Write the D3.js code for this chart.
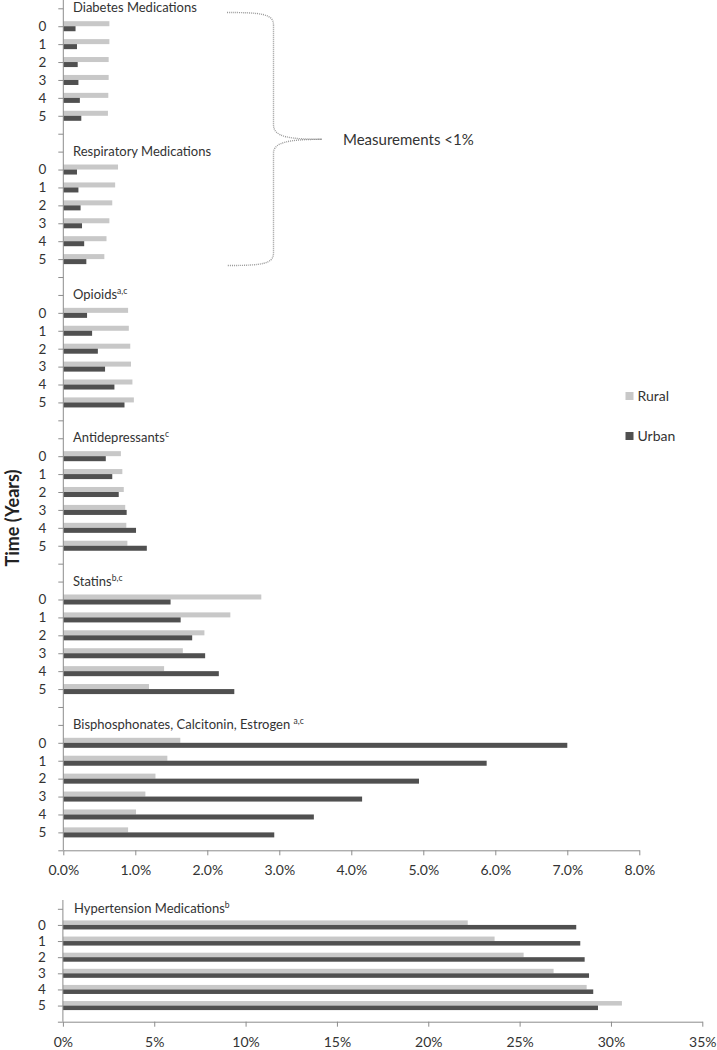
<!DOCTYPE html>
<html><head><meta charset="utf-8">
<script src="https://cdn.jsdelivr.net/npm/d3@7"></script>
<style>
body{margin:0;background:#fff;}
svg{display:block;font-family:Lato,"Open Sans",sans-serif;}
</style></head><body>
<svg id="chart" width="717" height="1050"></svg>
<script>
// ---------- data ----------
const years = ["0", "1", "2", "3", "4", "5"];
const groupNames = ["Diabetes Medications", "Respiratory Medications", "Opioids", "Antidepressants", "Statins", "Bisphosphonates, Calcitonin, Estrogen "];
const groupSups = ["", "", "a,c", "c", "b,c", "a,c"];
const seriesNames = ["Rural", "Urban"];

const diabetesRural = [0.64, 0.64, 0.63, 0.63, 0.625, 0.62];
const diabetesUrban = [0.17, 0.19, 0.20, 0.21, 0.23, 0.25];
const respiratoryRural = [0.76, 0.72, 0.68, 0.64, 0.60, 0.57];
const respiratoryUrban = [0.19, 0.21, 0.24, 0.26, 0.29, 0.32];
const opioidsRural = [0.90, 0.91, 0.93, 0.94, 0.96, 0.98];
const opioidsUrban = [0.33, 0.40, 0.48, 0.58, 0.71, 0.85];
const antidepressantsRural = [0.80, 0.82, 0.84, 0.86, 0.875, 0.89];
const antidepressantsUrban = [0.59, 0.68, 0.77, 0.88, 1.01, 1.16];
const statinsRural = [2.75, 2.32, 1.96, 1.66, 1.40, 1.19];
const statinsUrban = [1.49, 1.63, 1.79, 1.97, 2.16, 2.375];
const bisphosphonatesRural = [1.625, 1.445, 1.28, 1.14, 1.01, 0.90];
const bisphosphonatesUrban = [7.00, 5.88, 4.94, 4.15, 3.48, 2.93];

const hypertensionTitle = "Hypertension Medications";
const hypertensionSup = "b";
const hypertensionRural = [22.16, 23.63, 25.22, 26.86, 28.67, 30.60];
const hypertensionUrban = [28.10, 28.32, 28.56, 28.80, 29.03, 29.29];

const topTicks = [0, 1, 2, 3, 4, 5, 6, 7, 8];
const bottomTicks = [0, 5, 10, 15, 20, 25, 30, 35];
const annotationText = "Measurements <1%";
const yAxisTitle = "Time (Years)";

const ruralByGroup = [diabetesRural, respiratoryRural, opioidsRural, antidepressantsRural, statinsRural, bisphosphonatesRural];
const urbanByGroup = [diabetesUrban, respiratoryUrban, opioidsUrban, antidepressantsUrban, statinsUrban, bisphosphonatesUrban];

// ---------- style ----------
const C_RURAL = "#c8c8c8", C_URBAN = "#505050", C_AXIS = "#8c8c8c", C_TEXT = "#333";

const svg = d3.select("#chart");

// ---------- top chart ----------
const xTop = d3.scaleLinear().domain([0, 8]).range([63.3, 639.3]);
const rowKeys = [];
groupNames.forEach((g, i) => {
  rowKeys.push(i + "-t");
  years.forEach(y => rowKeys.push(i + "-" + y));
  rowKeys.push(i + "-b");
});
const yTop = d3.scalePoint().domain(rowKeys).range([8.3, 850.3]);
const bhTop = yTop.step() * 0.28;

const topBars = [];
groupNames.forEach((g, i) => {
  years.forEach((y, j) => {
    topBars.push({key: i + "-" + y, s: 0, v: ruralByGroup[i][j]});
    topBars.push({key: i + "-" + y, s: 1, v: urbanByGroup[i][j]});
  });
});
const gTop = svg.append("g");
gTop.selectAll("rect.bar").data(topBars).join("rect")
  .attr("class", "bar")
  .attr("x", xTop(0))
  .attr("y", d => d.s === 0 ? yTop(d.key) - bhTop : yTop(d.key))
  .attr("width", d => xTop(d.v) - xTop(0))
  .attr("height", bhTop)
  .attr("fill", d => d.s === 0 ? C_RURAL : C_URBAN);

function styleAxis(g) {
  g.selectAll("path.domain").attr("stroke", C_AXIS);
  g.selectAll(".tick line").attr("stroke", C_AXIS);
  g.selectAll(".tick text").attr("fill", C_TEXT).attr("font-family", "Lato, sans-serif");
}

const yAxisTop = svg.append("g").attr("transform", `translate(${xTop(0)},0)`)
  .call(d3.axisLeft(yTop).tickSize(5).tickSizeOuter(0).tickPadding(12)
    .tickFormat(k => { const p = k.split("-")[1]; return years.includes(p) ? p : ""; }))
  .call(styleAxis);
yAxisTop.select("path.domain").remove();
yAxisTop.selectAll(".tick text").attr("font-size", 13.5);
svg.append("line").attr("x1", xTop(0)).attr("x2", xTop(0)).attr("y1", 0).attr("y2", yTop(rowKeys[rowKeys.length - 1]))
  .attr("stroke", C_AXIS);

const xAxisTop = svg.append("g").attr("transform", `translate(0,${yTop(rowKeys[rowKeys.length - 1])})`)
  .call(d3.axisBottom(xTop).tickValues(topTicks).tickSize(5).tickSizeOuter(0).tickPadding(10)
    .tickFormat(d => d.toFixed(1) + "%"))
  .call(styleAxis);
xAxisTop.selectAll(".tick text").attr("font-size", 14);

// group titles
groupNames.forEach((g, i) => {
  const t = svg.append("text").attr("x", 73).attr("y", yTop(i + "-t") + 4)
    .attr("font-size", 13).attr("fill", C_TEXT).text(g);
  if (groupSups[i]) t.append("tspan").attr("font-size", 8.5).attr("dy", -5).text(groupSups[i]);
});

// ---------- brace annotation ----------
const brace = d3.path();
brace.moveTo(227, 12.5);
brace.bezierCurveTo(262, 12.5, 273.5, 14, 273.5, 25);
brace.lineTo(273.5, 125);
brace.bezierCurveTo(273.5, 137, 290, 139.3, 322, 139.3);
brace.bezierCurveTo(290, 139.3, 273.5, 142, 273.5, 153);
brace.lineTo(273.5, 253);
brace.bezierCurveTo(273.5, 264, 262, 265.5, 227, 265.5);
svg.append("path").attr("d", brace.toString()).attr("fill", "none")
  .attr("stroke", "#9a9a9a").attr("stroke-width", 1.4).attr("stroke-dasharray", "1,1");
svg.append("text").attr("x", 343).attr("y", 144.5).attr("font-size", 15).attr("fill", C_TEXT).text(annotationText);

// ---------- legend ----------
const legend = svg.append("g");
seriesNames.forEach((s, i) => {
  legend.append("rect").attr("x", 625.5).attr("y", 392 + i * 40).attr("width", 8).attr("height", 8)
    .attr("fill", i === 0 ? C_RURAL : C_URBAN);
  legend.append("text").attr("x", 637.5).attr("y", 401 + i * 40).attr("font-size", 14).attr("fill", C_TEXT).text(s);
});

// ---------- y axis title ----------
svg.append("text").attr("transform", "translate(18.5,518) rotate(-90)").attr("text-anchor", "middle")
  .attr("font-size", 18).attr("font-weight", "bold").attr("fill", "#222").text(yAxisTitle);

// ---------- bottom chart (hypertension) ----------
const xBot = d3.scaleLinear().domain([0, 35]).range([62.9, 702.3]);
const botKeys = ["t"].concat(years).concat(["b"]);
const yBot = d3.scalePoint().domain(botKeys).range([908.8, 1021.7]);
const bhBot = yBot.step() * 0.28;
const botBars = [];
years.forEach((y, j) => {
  botBars.push({key: y, s: 0, v: hypertensionRural[j]});
  botBars.push({key: y, s: 1, v: hypertensionUrban[j]});
});
svg.append("g").selectAll("rect").data(botBars).join("rect")
  .attr("x", xBot(0))
  .attr("y", d => d.s === 0 ? yBot(d.key) - bhBot : yBot(d.key))
  .attr("width", d => xBot(d.v) - xBot(0))
  .attr("height", bhBot)
  .attr("fill", d => d.s === 0 ? C_RURAL : C_URBAN);

const yAxisBot = svg.append("g").attr("transform", `translate(${xBot(0)},0)`)
  .call(d3.axisLeft(yBot).tickSize(5).tickSizeOuter(0).tickPadding(12)
    .tickFormat(k => years.includes(k) ? k : ""))
  .call(styleAxis);
yAxisBot.select("path.domain").remove();
yAxisBot.selectAll(".tick text").attr("font-size", 13.5);
svg.append("line").attr("x1", xBot(0)).attr("x2", xBot(0)).attr("y1", 900).attr("y2", yBot("b")).attr("stroke", C_AXIS);

const xAxisBot = svg.append("g").attr("transform", `translate(0,${yBot("b")})`)
  .call(d3.axisBottom(xBot).tickValues(bottomTicks).tickSize(5).tickSizeOuter(0).tickPadding(10)
    .tickFormat(d => d + "%"))
  .call(styleAxis);
xAxisBot.selectAll(".tick text").attr("font-size", 14);

const ht = svg.append("text").attr("x", 74).attr("y", yBot("t") + 4).attr("font-size", 13).attr("fill", C_TEXT).text(hypertensionTitle);
ht.append("tspan").attr("font-size", 8.5).attr("dy", -5).text(hypertensionSup);
</script>
</body></html>
